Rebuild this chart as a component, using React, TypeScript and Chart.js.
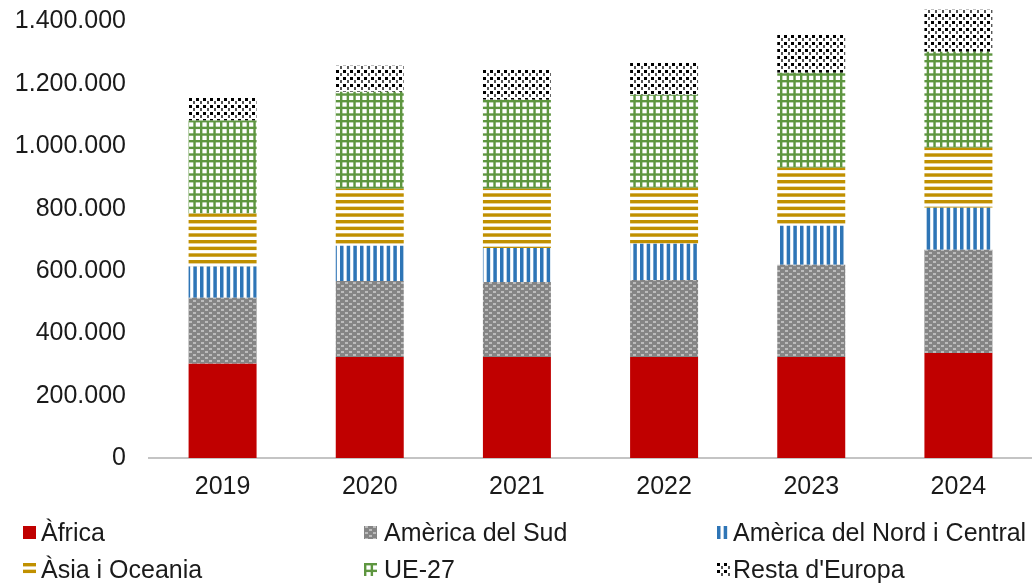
import React, { useEffect, useRef } from 'react';
import { Chart, registerables } from 'chart.js';

Chart.register(...registerables);

// ---- Data ----
const years = ['2019', '2020', '2021', '2022', '2023', '2024'];
const africa = [302000, 324000, 324000, 324000, 324000, 337000];
const americaSud = [212000, 244000, 241000, 247000, 296000, 331000];
const americaNord = [100000, 113000, 109000, 116000, 125000, 135000];
const asiaOceania = [170000, 183000, 190000, 180000, 186000, 192000];
const ue27 = [299000, 311000, 285000, 298000, 305000, 308000];
const restaEuropa = [74000, 83000, 97000, 103000, 122000, 135000];
const seriesNames = [
  'Àfrica',
  'Amèrica del Sud',
  'Amèrica del Nord i Central',
  'Àsia i Oceania',
  'UE-27',
  "Resta d'Europa",
];
const yTickValues = [0, 200000, 400000, 600000, 800000, 1000000, 1200000, 1400000];

// ---- Layout / style constants ----
const FONT = '"Liberation Sans", Arial, sans-serif';
const FONT_SIZE = 25;
const TEXT_COLOR = '#1a1a1a';
const legendSwatchX = [23, 364, 717];
const legendTextX = [41, 384, 733];
const legendRowTop = [526, 563];
const legendRowBaseline = [541, 578];

function formatThousands(v: number): string {
  return Math.round(v)
    .toString()
    .replace(/\B(?=(\d{3})+(?!\d))/g, '.');
}

function makeTile(
  ctx: CanvasRenderingContext2D,
  w: number,
  h: number,
  draw: (g: CanvasRenderingContext2D) => void
): CanvasPattern {
  const c = document.createElement('canvas');
  c.width = w;
  c.height = h;
  const g = c.getContext('2d')!;
  g.fillStyle = '#ffffff';
  g.fillRect(0, 0, w, h);
  draw(g);
  return ctx.createPattern(c, 'repeat')!;
}

function buildFills(ctx: CanvasRenderingContext2D): (string | CanvasPattern)[] {
  const gray = makeTile(ctx, 8, 6, (g) => {
    g.fillStyle = '#858585';
    g.fillRect(0, 0, 8, 6);
    g.fillStyle = '#bcbcbc';
    g.fillRect(1, 0, 3, 2);
    g.fillRect(5, 3, 3, 2);
  });
  const p = 20 / 3;
  const blue = makeTile(ctx, 20, 4, (g) => {
    g.fillStyle = '#2E75B6';
    for (let i = 0; i < 3; i++) g.fillRect(i * p, 0, 3.5, 4);
  });
  const gold = makeTile(ctx, 4, 20, (g) => {
    g.fillStyle = '#C09000';
    for (let i = 0; i < 3; i++) g.fillRect(0, i * p, 4, 3.4);
  });
  const green = makeTile(ctx, 20, 20, (g) => {
    g.fillStyle = '#5E9640';
    for (let i = 0; i < 3; i++) {
      g.fillRect(i * p, 0, 2.4, 20);
      g.fillRect(0, i * p, 20, 2.4);
    }
  });
  const dots = makeTile(ctx, 7, 7, (g) => {
    g.fillStyle = '#000000';
    g.fillRect(0, 0, 3, 3);
    g.fillStyle = '#555555';
    g.fillRect(4, 3, 2, 3);
  });
  return ['#C00000', gray, blue, gold, green, dots];
}

const legendPlugin = {
  id: 'gridLegend',
  afterDraw(chart: any) {
    const ctx: CanvasRenderingContext2D = chart.ctx;
    ctx.save();
    ctx.font = `${FONT_SIZE}px ${FONT}`;
    ctx.fillStyle = TEXT_COLOR;
    ctx.textBaseline = 'alphabetic';
    ctx.textAlign = 'left';
    chart.data.datasets.forEach((ds: any, i: number) => {
      const col = i % 3;
      const row = Math.floor(i / 3);
      const sx = legendSwatchX[col];
      const sy = legendRowTop[row];
      ctx.save();
      ctx.translate(sx, sy);
      ctx.fillStyle = ds.backgroundColor;
      ctx.fillRect(0, 0, 13, 13);
      ctx.restore();
      ctx.fillStyle = TEXT_COLOR;
      ctx.fillText(ds.label, legendTextX[col], legendRowBaseline[row]);
    });
    ctx.restore();
  },
};

export default function App() {
  const canvasRef = useRef<HTMLCanvasElement | null>(null);

  useEffect(() => {
    const canvas = canvasRef.current;
    if (!canvas) return;
    const ctx = canvas.getContext('2d')!;
    const fills = buildFills(ctx);
    const values = [africa, americaSud, americaNord, asiaOceania, ue27, restaEuropa];

    const chart = new Chart(canvas, {
      type: 'bar',
      data: {
        labels: years,
        datasets: values.map((d, i) => ({
          label: seriesNames[i],
          data: d,
          backgroundColor: fills[i] as any,
          borderWidth: 0,
          categoryPercentage: 1,
          barPercentage: 0.462,
          clip: false as any,
        })),
      },
      options: {
        responsive: false,
        animation: false,
        layout: { padding: { top: 6, left: 0, right: 0, bottom: 0 } },
        plugins: {
          legend: { display: false },
          tooltip: { enabled: false },
        },
        scales: {
          x: {
            stacked: true,
            grid: { display: false, drawTicks: false },
            border: { display: true, color: '#c4c4c4', width: 2 },
            ticks: {
              padding: 14.5,
              color: TEXT_COLOR,
              font: { family: FONT, size: FONT_SIZE },
              maxRotation: 0,
            },
            afterFit: (scale: any) => {
              scale.height = 129;
              scale.paddingLeft = 0;
              scale.paddingRight = 0;
            },
          },
          y: {
            stacked: true,
            min: 0,
            max: 1450000,
            grid: { display: false, drawTicks: false },
            border: { display: false },
            ticks: {
              padding: 23,
              color: TEXT_COLOR,
              font: { family: FONT, size: FONT_SIZE },
              callback: (v: any) => formatThousands(Number(v)),
            },
            afterBuildTicks: (scale: any) => {
              scale.ticks = yTickValues.map((v) => ({ value: v }));
            },
            afterFit: (scale: any) => {
              scale.width = 149;
              scale.paddingTop = 0;
              scale.paddingBottom = 0;
            },
          },
        },
      },
      plugins: [legendPlugin],
    });

    return () => chart.destroy();
  }, []);

  return (
    <div style={{ position: 'fixed', left: 0, top: 0, width: 1032, height: 587, background: '#ffffff' }}>
      <canvas ref={canvasRef} width={1032} height={587} style={{ display: 'block' }} />
    </div>
  );
}
